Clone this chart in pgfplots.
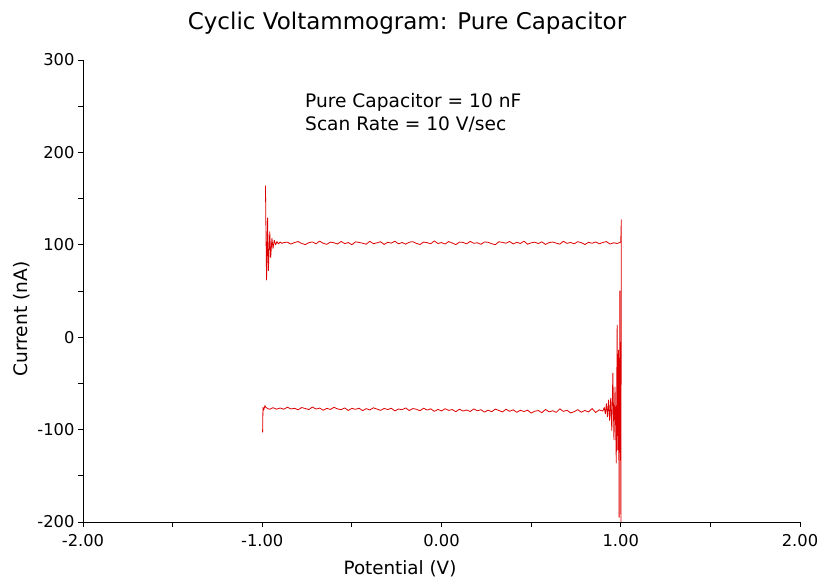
\documentclass[border=0pt]{standalone}
\usepackage{fontspec}
\setmainfont{DejaVu Sans}
\usepackage{pgfplots}
\pgfplotsset{compat=1.18}
\definecolor{cvred}{RGB}{222,0,0}
\begin{document}
\begin{tikzpicture}[x=1pt,y=1pt]
\useasboundingbox (0,0) rectangle (829,588);
\begin{axis}[
  at={(83pt,66pt)}, anchor=south west,
  width=717pt, height=462pt, scale only axis,
  xmin=-2, xmax=2, ymin=-200, ymax=300,
  axis lines=left, axis line style={-, line width=0.8pt},
  xtick={-2,-1,0,1,2}, minor xtick={-1.5,-0.5,0.5,1.5},
  ytick={-200,-100,0,100,200,300}, minor ytick={-150,-50,50,150,250},
  tick align=outside, major tick length=5pt, minor tick length=5pt,
  every tick/.style={black, line width=0.8pt},
  xticklabel style={yshift=-4pt, /pgf/number format/.cd, fixed, fixed zerofill, precision=2, assume math mode=true},
  yticklabel style={/pgf/number format/.cd, fixed, assume math mode=true},
  ticklabel style={font=\fontsize{16.3}{19}\selectfont},
]
\addplot[cvred, line width=0.8pt, line join=round] coordinates {
(-0.982,164) (-0.980,127) (-0.976,62) (-0.970,129) (-0.966,72) (-0.958,114) (-0.953,86)
(-0.946,107) (-0.940,96) (-0.933,105) (-0.926,100) (-0.918,103.5) (-0.910,101) (-0.900,103)
(-0.890,101.5) (-0.880,102.5)
(-0.86,102.8) (-0.84,100.8) (-0.82,102.5) (-0.80,103.5) (-0.78,101.4) (-0.76,100.2)
(-0.74,102.3) (-0.72,103.1) (-0.70,101.1) (-0.68,104.0) (-0.66,101.6) (-0.64,100.5)
(-0.62,102.9) (-0.60,102.2) (-0.58,100.9) (-0.56,103.6) (-0.54,101.3) (-0.52,102.4)
(-0.50,100.1) (-0.48,103.2) (-0.46,102.6) (-0.44,101.7) (-0.42,100.6) (-0.40,103.8)
(-0.38,101.2) (-0.36,102.1) (-0.34,103.3) (-0.32,100.4) (-0.30,102.7) (-0.28,101.8)
(-0.26,103.9) (-0.24,101.0) (-0.22,102.5) (-0.20,100.7) (-0.18,102.8) (-0.16,103.4)
(-0.14,101.5) (-0.12,100.3) (-0.10,103.0) (-0.08,102.3) (-0.06,101.1) (-0.04,104.2)
(-0.02,101.4) (0.00,102.4) (0.02,100.8) (0.04,103.5) (0.06,101.9) (0.08,100.2)
(0.10,102.9) (0.12,102.6) (0.14,101.0) (0.16,103.7) (0.18,101.6) (0.20,102.2)
(0.22,100.5) (0.24,103.1) (0.26,102.7) (0.28,101.2) (0.30,100.1) (0.32,103.3)
(0.34,102.5) (0.36,101.7) (0.38,103.6) (0.40,100.9) (0.42,102.8) (0.44,101.4)
(0.46,104.0) (0.48,100.6) (0.50,102.1) (0.52,102.9) (0.54,101.3) (0.56,103.2)
(0.58,100.4) (0.60,102.4) (0.62,103.0) (0.64,101.8) (0.66,100.7) (0.68,103.8)
(0.70,101.5) (0.72,102.6) (0.74,101.0) (0.76,103.4) (0.78,102.3) (0.80,100.3)
(0.82,102.7) (0.84,101.6) (0.86,103.1) (0.88,101.1) (0.90,102.5) (0.92,103.5)
(0.94,100.8) (0.96,102.2) (0.98,101.4) (1.00,102.9)
(1.003,127) (1.001,-200) (0.995,50) (0.991,-195) (0.987,-14) (0.983,-122) (0.980,13)
(0.975,-136) (0.968,-54) (0.962,-111) (0.956,-39) (0.950,-101) (0.944,-66) (0.938,-90)
(0.932,-68) (0.926,-86) (0.920,-72) (0.914,-83) (0.908,-76) (0.900,-80)
(0.88,-78.6) (0.86,-81.5) (0.84,-77.2) (0.82,-80.9) (0.80,-79.3) (0.78,-81.2)
(0.76,-78.4) (0.74,-80.6) (0.72,-82.0) (0.70,-79.0) (0.68,-80.3) (0.66,-77.5)
(0.64,-81.4) (0.62,-79.6) (0.60,-80.8) (0.58,-78.2) (0.56,-81.7) (0.54,-79.4)
(0.52,-80.1) (0.50,-82.2) (0.48,-78.9) (0.46,-80.5) (0.44,-79.1) (0.42,-81.3)
(0.40,-78.6) (0.38,-80.2) (0.36,-78.0) (0.34,-80.9) (0.32,-79.3) (0.30,-77.8)
(0.28,-80.6) (0.26,-79.0) (0.24,-81.1) (0.22,-78.4) (0.20,-79.7) (0.18,-77.6)
(0.16,-80.4) (0.14,-78.8) (0.12,-79.9) (0.10,-77.9) (0.08,-80.7) (0.06,-78.3)
(0.04,-79.2) (0.02,-77.4) (0.00,-79.8) (-0.02,-78.1) (-0.04,-80.3) (-0.06,-77.5)
(-0.08,-78.9) (-0.10,-76.8) (-0.12,-79.6) (-0.14,-78.0) (-0.16,-77.2) (-0.18,-79.4)
(-0.20,-76.6) (-0.22,-78.5) (-0.24,-77.7) (-0.26,-79.8) (-0.28,-76.9) (-0.30,-78.3)
(-0.32,-77.1) (-0.34,-79.2) (-0.36,-77.8) (-0.38,-76.4) (-0.40,-78.7) (-0.42,-77.3)
(-0.44,-79.5) (-0.46,-76.8) (-0.48,-78.1) (-0.50,-77.0) (-0.52,-79.3) (-0.54,-76.5)
(-0.56,-78.4) (-0.58,-77.6) (-0.60,-75.9) (-0.62,-78.2) (-0.64,-77.0) (-0.66,-79.1)
(-0.68,-76.7) (-0.70,-77.8) (-0.72,-75.6) (-0.74,-78.3) (-0.76,-77.2) (-0.78,-76.1)
(-0.80,-78.6) (-0.82,-76.9) (-0.84,-77.7) (-0.86,-75.8) (-0.88,-78.0) (-0.90,-76.6)
(-0.92,-77.9) (-0.94,-76.3) (-0.96,-78.1) (-0.98,-76.0)
(-0.985,-74) (-0.992,-79) (-0.996,-76) (-0.998,-103)
};
\end{axis}
\node[font=\fontsize{23}{27}\selectfont, anchor=base, inner sep=0pt] at (407,558) {Cyclic Voltammogram: Pure Capacitor};
\node[font=\fontsize{18.6}{22}\selectfont, anchor=base west, inner sep=0pt] at (305,480) {Pure Capacitor = 10 nF};
\node[font=\fontsize{18.6}{22}\selectfont, anchor=base west, inner sep=0pt] at (305,457) {Scan Rate = 10 V/sec};
\node[font=\fontsize{18.6}{22}\selectfont, rotate=90, inner sep=0pt] at (22,269) {Current (nA)};
\node[font=\fontsize{18.3}{22}\selectfont, anchor=base, inner sep=0pt] at (400,13) {Potential (V)};
\end{tikzpicture}
\end{document}
